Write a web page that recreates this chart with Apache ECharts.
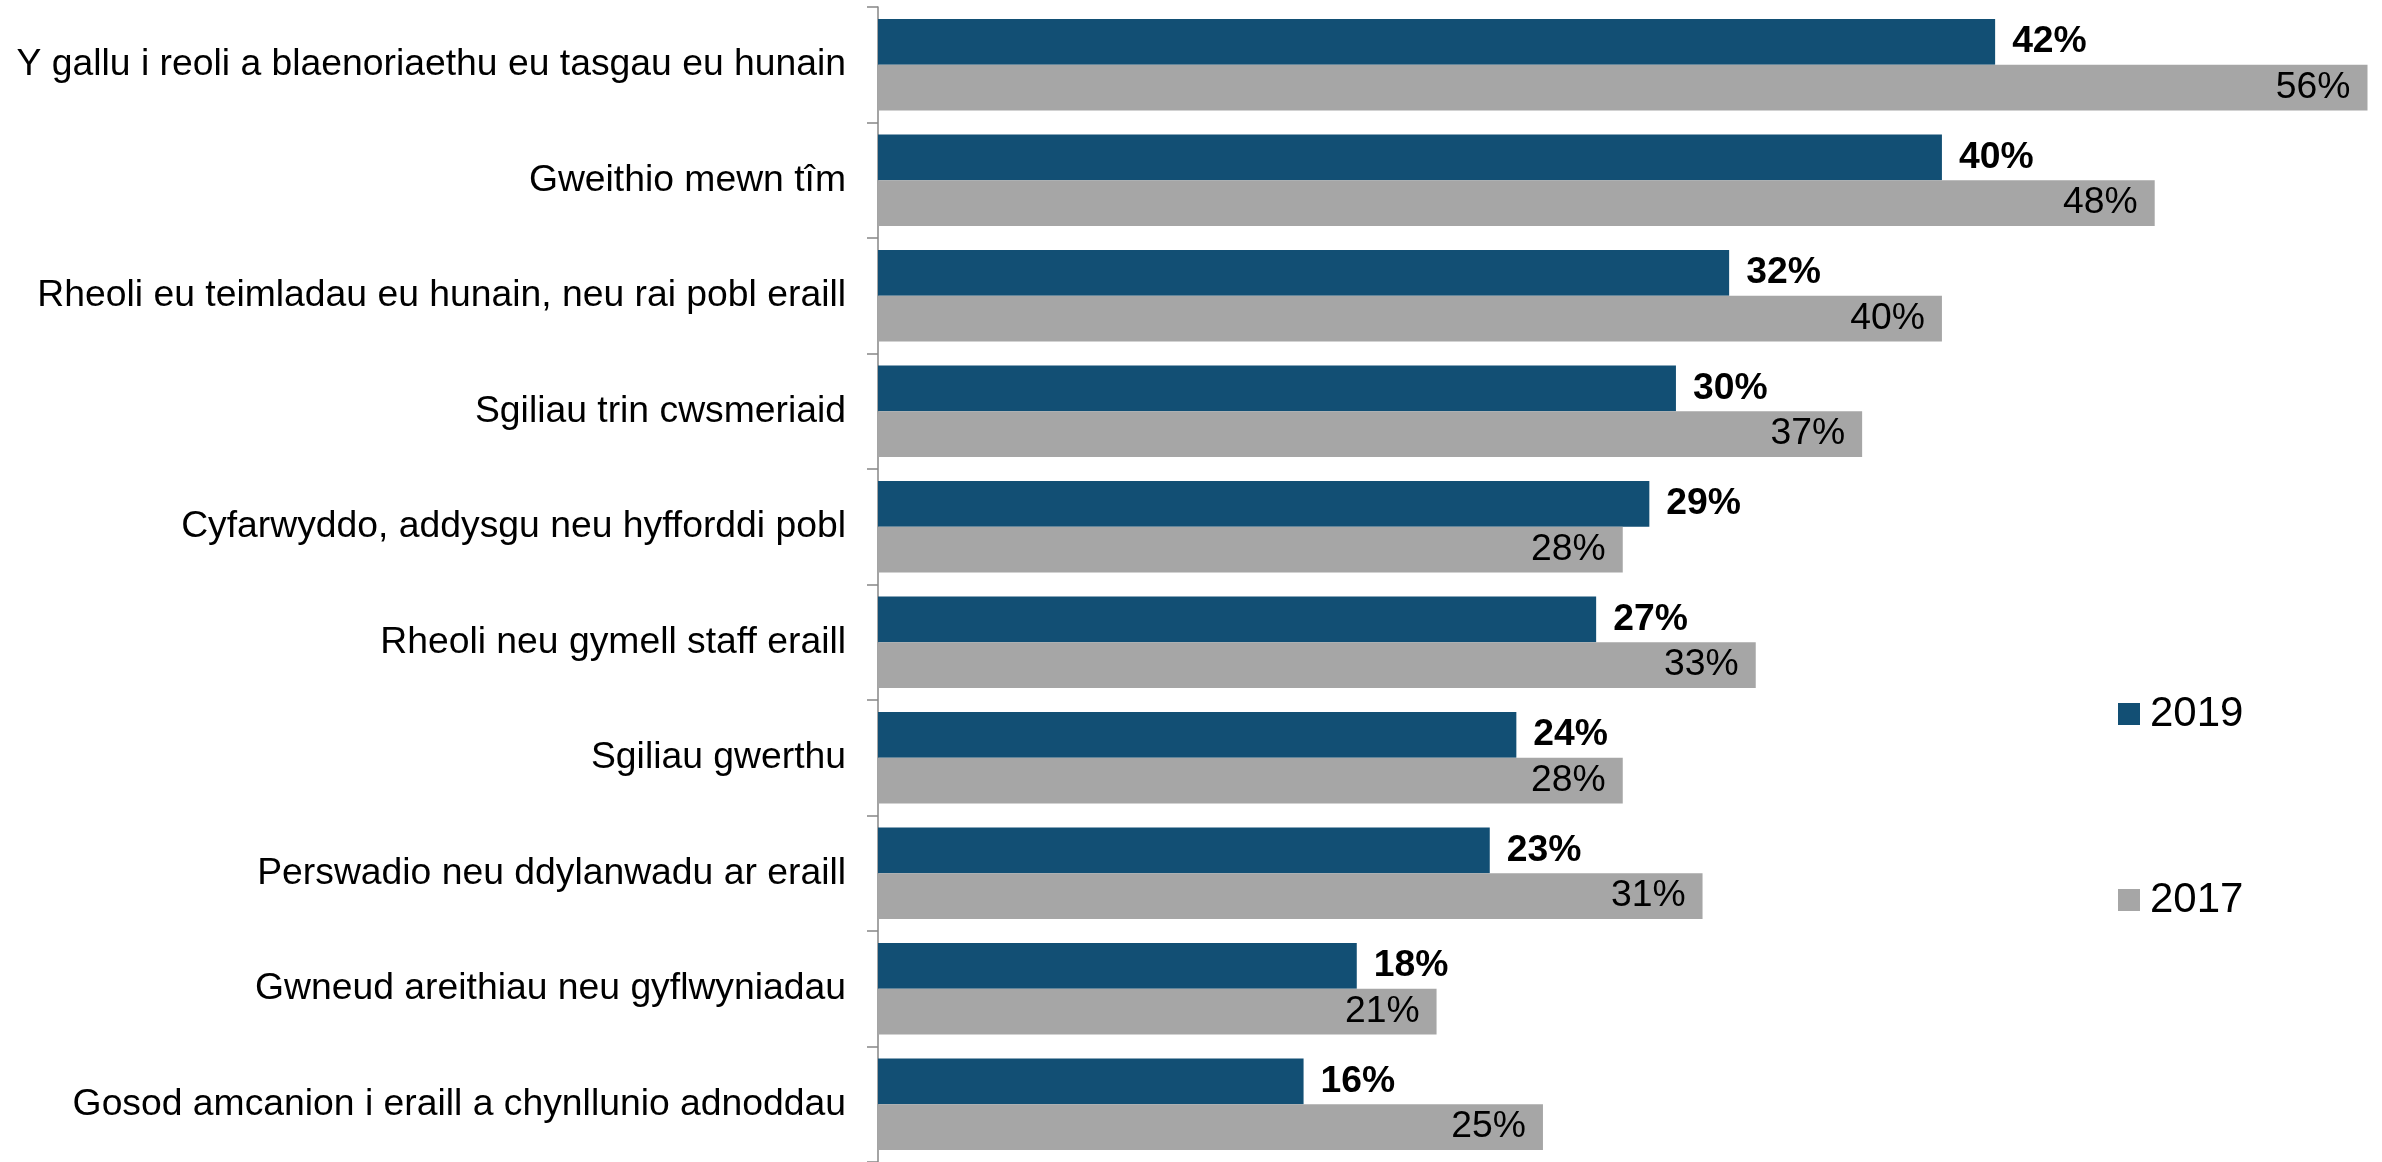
<!DOCTYPE html>
<html>
<head>
<meta charset="utf-8">
<script src="https://cdn.jsdelivr.net/npm/echarts@6/dist/echarts.min.js"></script>
<style>
html,body{margin:0;padding:0;background:#fff;}
#chart{width:2382px;height:1162px;}
</style>
</head>
<body>
<div id="chart"></div>
<script>
const categories = [
  "Y gallu i reoli a blaenoriaethu eu tasgau eu hunain",
  "Gweithio mewn tîm",
  "Rheoli eu teimladau eu hunain, neu rai pobl eraill",
  "Sgiliau trin cwsmeriaid",
  "Cyfarwyddo, addysgu neu hyfforddi pobl",
  "Rheoli neu gymell staff eraill",
  "Sgiliau gwerthu",
  "Perswadio neu ddylanwadu ar eraill",
  "Gwneud areithiau neu gyflwyniadau",
  "Gosod amcanion i eraill a chynllunio adnoddau"
];
const values2019 = [42, 40, 32, 30, 29, 27, 24, 23, 18, 16];
const values2017 = [56, 48, 40, 37, 28, 33, 28, 31, 21, 25];
const seriesNames = ["2019", "2017"];

const FONT = "'Liberation Sans', Arial, sans-serif";
const chart = echarts.init(document.getElementById('chart'));
chart.setOption({
  animation: false,
  backgroundColor: '#ffffff',
  textStyle: { fontFamily: FONT },
  grid: { left: 878, right: 14.5, top: 7, height: 1162, containLabel: false },
  legend: [
    {
      data: [seriesNames[0]],
      orient: 'vertical',
      left: 2113, top: 688,
      itemWidth: 22, itemHeight: 22, icon: 'rect',
      textStyle: { fontSize: 42, color: '#000', fontFamily: FONT, padding: [0,0,0,5] }
    },
    {
      data: [seriesNames[1]],
      orient: 'vertical',
      left: 2113, top: 874,
      itemWidth: 22, itemHeight: 22, icon: 'rect',
      textStyle: { fontSize: 42, color: '#000', fontFamily: FONT, padding: [0,0,0,5] }
    }
  ],
  xAxis: {
    type: 'value', min: 0, max: 56, show: false,
    splitLine: { show: false }
  },
  yAxis: {
    type: 'category',
    data: categories,
    inverse: true,
    axisLine: { show: true, lineStyle: { color: '#868686', width: 1.5 } },
    axisTick: { show: true, length: 11, lineStyle: { color: '#868686', width: 1.5 } },
    axisLabel: { fontSize: 37.3, color: '#000', margin: 32, fontFamily: FONT }
  },
  series: [
    {
      name: seriesNames[0], type: 'bar', data: values2019,
      barGap: '0%', barCategoryGap: '20.7%',
      itemStyle: { color: '#124F74' },
      label: { show: true, position: 'right', distance: 17, formatter: '{c}%',
               fontSize: 37.3, fontWeight: 'bold', color: '#000', fontFamily: FONT }
    },
    {
      name: seriesNames[1], type: 'bar', data: values2017,
      barGap: '0%', barCategoryGap: '20.7%',
      itemStyle: { color: '#A6A6A6' },
      label: { show: true, position: 'insideRight', distance: 17, formatter: '{c}%',
               fontSize: 37.3, color: '#000', fontFamily: FONT }
    }
  ]
});
</script>
</body>
</html>
